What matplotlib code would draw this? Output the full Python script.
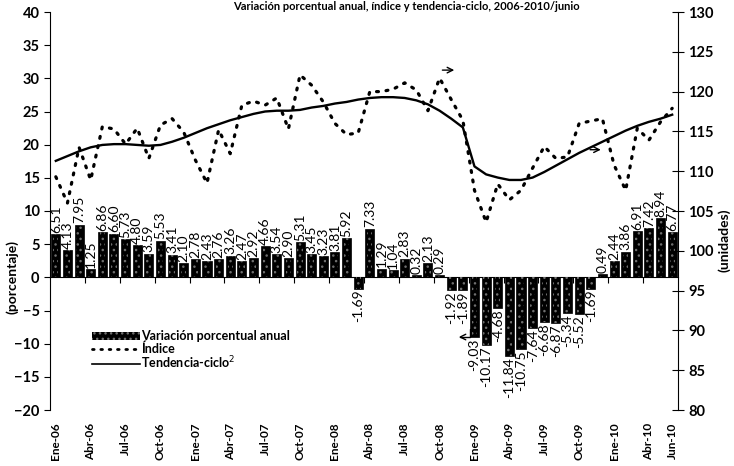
import numpy as np
import matplotlib.pyplot as plt
from matplotlib.patches import Patch
from matplotlib.lines import Line2D

plt.rcParams['font.family'] = ['Lato', 'DejaVu Sans']

# Monthly data, Ene-06 .. Jun-10
meses = ['Ene', 'Feb', 'Mar', 'Abr', 'May', 'Jun', 'Jul', 'Ago', 'Sep', 'Oct', 'Nov', 'Dic']
fechas = [f"{m}-{a:02d}" for a in range(6, 11) for m in meses][:54]

variacion = [6.51, 4.13, 7.95, 1.25, 6.86, 6.60, 5.73, 4.80, 3.59, 5.53, 3.41, 2.10,
             2.78, 2.43, 2.76, 3.26, 2.47, 2.92, 4.66, 3.54, 2.90, 5.31, 3.45, 3.23,
             3.81, 5.92, -1.69, 7.33, 1.29, 1.04, 2.83, 0.32, 2.13, 0.29, -1.92, -1.89,
             -9.03, -10.17, -4.68, -11.84, -10.75, -7.64, -6.68, -6.87, -5.34, -5.52, -1.69, 0.49,
             2.44, 3.86, 6.91, 7.42, 8.94, 6.77]

indice = [109.3, 106.0, 113.0, 108.9, 115.6, 115.3, 113.4, 115.4, 111.6, 115.8, 116.6, 114.9,
          111.4, 108.5, 115.2, 112.2, 118.3, 118.8, 118.3, 119.2, 115.3, 122.1, 120.8, 118.7,
          116.0, 114.6, 114.8, 120.0, 120.0, 120.3, 121.1, 120.2, 117.6, 121.7, 119.0, 116.4,
          107.6, 103.6, 108.4, 106.4, 107.6, 110.4, 113.1, 111.6, 111.8, 116.0, 116.3, 116.6,
          110.8, 107.6, 115.4, 113.9, 116.2, 117.9]

tendencia = [111.3, 111.9, 112.5, 113.0, 113.3, 113.4, 113.4, 113.3, 113.2, 113.3, 113.7, 114.2,
             114.8, 115.4, 115.9, 116.4, 116.8, 117.2, 117.5, 117.6, 117.6, 117.7, 118.0, 118.2,
             118.5, 118.7, 119.0, 119.2, 119.3, 119.3, 119.2, 118.9, 118.4, 117.6, 116.6, 115.5,
             110.6, 109.6, 109.2, 108.9, 108.9, 109.2, 109.9, 110.7, 111.5, 112.3, 113.0, 113.7,
             114.4, 115.1, 115.7, 116.2, 116.6, 117.1]

etiquetas_idx = list(range(0, 54, 3)) + [53]

x = np.arange(len(variacion))

fig = plt.figure(figsize=(7.34, 4.66), dpi=100)
ax = fig.add_axes([50/734, 1 - 410/466, (678 - 50)/734, (410 - 12)/466])

# bars: black with a grey speckle inside
ax.bar(x, variacion, width=0.78, color='black', edgecolor='black', linewidth=0.5, zorder=2)
ax.bar(x, variacion, width=0.45, facecolor='none', edgecolor='#6e6e6e', hatch='...',
       linewidth=0, zorder=3)

for xi, v in zip(x, variacion):
    if v >= 0:
        ax.text(xi, v + 0.2, f"{v:.2f}", rotation=90, ha='center', va='bottom', fontsize=10)
    else:
        ax.text(xi, v - 0.2, f"{v:.2f}", rotation=90, ha='center', va='top', fontsize=10)

ax.set_xlim(-0.5, len(x) - 0.5)
ax.set_ylim(-20, 40)
ax.set_yticks(range(-20, 41, 5))
ax.tick_params(axis='y', direction='out', length=4, labelsize=10.5)
for t in ax.get_yticklabels():
    t.set_fontweight('bold')

ax.set_xticks(etiquetas_idx)
ax.set_xticklabels([fechas[i] for i in etiquetas_idx], rotation=90, fontsize=8.5, fontweight='bold')
ax.tick_params(axis='x', length=0, pad=9)

for s in ['top', 'right', 'bottom']:
    ax.spines[s].set_visible(False)

# category axis crossing at zero
eje0 = ax.secondary_xaxis(1/3)
eje0.set_xticks(np.arange(2.5, len(x) - 1, 3))
eje0.tick_params(direction='out', length=4, labelbottom=False, labeltop=False)

ax2 = ax.twinx()
ax2.set_ylim(80, 130)
ax2.set_yticks(range(80, 131, 5))
ax2.tick_params(axis='y', direction='inout', length=8, labelsize=10.5)
for t in ax2.get_yticklabels():
    t.set_fontweight('bold')
for s in ['top', 'left', 'bottom']:
    ax2.spines[s].set_visible(False)

ax2.plot(x, indice, color='black', linestyle=(0, (0.6, 2.4)), linewidth=2.3,
         dash_capstyle='round', zorder=4)
ax2.plot(x, tendencia, color='black', linewidth=1.7, zorder=4)

# arrows pointing to the axis of each series
ax2.annotate('', xy=(34.5, 122.7), xytext=(33.0, 122.7),
             arrowprops=dict(arrowstyle='->', color='black', lw=1))
ax2.annotate('', xy=(47.1, 112.7), xytext=(45.7, 112.7),
             arrowprops=dict(arrowstyle='->', color='black', lw=1))
ax.annotate('', xy=(34.4, -9.0), xytext=(35.6, -7.3),
            arrowprops=dict(arrowstyle='->', color='black', lw=1,
                            connectionstyle='angle,angleA=90,angleB=0,rad=0'))

fig.text(12/734, 1 - 277/466, '(porcentaje)', rotation=90, ha='center', va='center',
         fontsize=10, fontweight='bold')
fig.text(724/734, 1 - 240/466, '(unidades)', rotation=90, ha='center', va='center',
         fontsize=10, fontweight='bold')

fig.text(0.553, 1 - 10/466, 'Variación porcentual anual, índice y tendencia-ciclo, 2006-2010/junio',
         ha='center', va='baseline', fontsize=8, fontweight='bold')

handles = [Patch(facecolor='black', edgecolor='#6e6e6e', hatch='...', linewidth=0),
           Line2D([], [], color='black', linestyle=(0, (0.6, 2.4)), linewidth=2.0,
                  dash_capstyle='round'),
           Line2D([], [], color='black', linewidth=1.2)]
leg = fig.legend(handles, ['Variación porcentual anual', 'Índice', 'Tendencia-ciclo$^{2}$'],
                 loc='upper left', bbox_to_anchor=(86/734, 1 - 324/466), frameon=False,
                 handlelength=3.8, handleheight=0.6, handletextpad=0.1, labelspacing=0.0,
                 borderpad=0, prop={'size': 9, 'weight': 'bold'})

fig.savefig('out.png', dpi=100)
